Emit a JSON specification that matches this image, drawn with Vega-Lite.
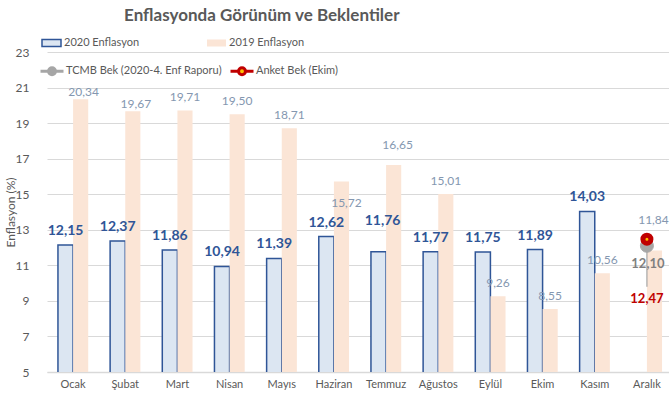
{
  "$schema": "https://vega.github.io/schema/vega-lite/v6.json",
  "width": 626,
  "height": 320,
  "autosize": "none",
  "padding": {"left": 47, "top": 52, "right": 0, "bottom": 28},
  "background": "white",
  "title": {
    "text": "Enflasyonda Görünüm ve Beklentiler",
    "font": "Lato",
    "fontSize": 17,
    "fontWeight": "bold",
    "color": "#595959",
    "anchor": "start",
    "dx": 120,
    "offset": 7
  },
  "datasets": {
    "ana": [
      {"ay": "Ocak", "seri": "2020 Enflasyon", "deger": 12.15},
      {"ay": "Şubat", "seri": "2020 Enflasyon", "deger": 12.37},
      {"ay": "Mart", "seri": "2020 Enflasyon", "deger": 11.86},
      {"ay": "Nisan", "seri": "2020 Enflasyon", "deger": 10.94},
      {"ay": "Mayıs", "seri": "2020 Enflasyon", "deger": 11.39},
      {"ay": "Haziran", "seri": "2020 Enflasyon", "deger": 12.62},
      {"ay": "Temmuz", "seri": "2020 Enflasyon", "deger": 11.76},
      {"ay": "Ağustos", "seri": "2020 Enflasyon", "deger": 11.77},
      {"ay": "Eylül", "seri": "2020 Enflasyon", "deger": 11.75},
      {"ay": "Ekim", "seri": "2020 Enflasyon", "deger": 11.89},
      {"ay": "Kasım", "seri": "2020 Enflasyon", "deger": 14.03},
      {"ay": "Ocak", "seri": "2019 Enflasyon", "deger": 20.34},
      {"ay": "Şubat", "seri": "2019 Enflasyon", "deger": 19.67},
      {"ay": "Mart", "seri": "2019 Enflasyon", "deger": 19.71},
      {"ay": "Nisan", "seri": "2019 Enflasyon", "deger": 19.50},
      {"ay": "Mayıs", "seri": "2019 Enflasyon", "deger": 18.71},
      {"ay": "Haziran", "seri": "2019 Enflasyon", "deger": 15.72},
      {"ay": "Temmuz", "seri": "2019 Enflasyon", "deger": 16.65},
      {"ay": "Ağustos", "seri": "2019 Enflasyon", "deger": 15.01},
      {"ay": "Eylül", "seri": "2019 Enflasyon", "deger": 9.26},
      {"ay": "Ekim", "seri": "2019 Enflasyon", "deger": 8.55},
      {"ay": "Kasım", "seri": "2019 Enflasyon", "deger": 10.56},
      {"ay": "Aralık", "seri": "2019 Enflasyon", "deger": 11.84},
      {"ay": "Aralık", "seri": "TCMB Bek (2020-4. Enf Raporu)", "deger": 12.10},
      {"ay": "Aralık", "seri": "Anket Bek (Ekim)", "deger": 12.47}
    ],
    "cizgi": [
      {"ay": "Aralık", "ust": 12.10, "alt": 9.8}
    ]
  },
  "data": {"name": "ana"},
  "encoding": {
    "x": {
      "field": "ay",
      "type": "nominal",
      "sort": null,
      "scale": {
        "domain": ["Ocak", "Şubat", "Mart", "Nisan", "Mayıs", "Haziran", "Temmuz", "Ağustos", "Eylül", "Ekim", "Kasım", "Aralık"],
        "paddingInner": 0.42,
        "paddingOuter": 0.21
      },
      "axis": {
        "title": null,
        "labelAngle": 0,
        "labelColor": "#595959",
        "labelFont": "Lato",
        "labelFontSize": 11,
        "labelPadding": 6,
        "ticks": false,
        "domainColor": "#d9d9d9",
        "domainWidth": 1.5
      }
    },
    "y": {
      "field": "deger",
      "type": "quantitative",
      "scale": {"domain": [5, 23], "nice": false, "zero": false},
      "axis": {
        "values": [5, 7, 9, 11, 13, 15, 17, 19, 21, 23],
        "title": "Enflasyon (%)",
        "titleColor": "#595959",
        "titleFont": "Lato",
        "titleFontSize": 12,
        "titleFontWeight": "normal",
        "titlePadding": -2,
        "labelColor": "#595959",
        "labelFont": "Lato",
        "labelFontSize": 12,
        "labelPadding": 18,
        "ticks": false,
        "domain": false,
        "gridColor": "#d9d9d9",
        "gridWidth": 1.2
      }
    }
  },
  "layer": [
    {
      "transform": [{"filter": "datum.seri == '2020 Enflasyon' || datum.seri == '2019 Enflasyon'"}],
      "mark": {"type": "bar", "strokeWidth": 1.5, "clip": true},
      "encoding": {
        "xOffset": {"field": "seri", "type": "nominal", "scale": {"domain": ["2020 Enflasyon", "2019 Enflasyon"], "paddingInner": 0, "paddingOuter": 0}},
        "fill": {
          "field": "seri",
          "type": "nominal",
          "scale": {"domain": ["2020 Enflasyon", "2019 Enflasyon"], "range": ["#dce6f2", "#fbe5d6"]},
          "legend": {
            "orient": "none",
            "legendX": -6,
            "legendY": -20,
            "direction": "horizontal",
            "columns": 2,
            "title": null,
            "symbolType": "M-1,-0.37H1V0.37H-1Z",
            "symbolSize": 361,
            "symbolStrokeWidth": 1.5,
            "labelFont": "Lato",
            "labelFontSize": 11,
            "labelColor": "#595959",
            "labelOffset": 2,
            "columnPadding": 64
          }
        },
        "stroke": {
          "field": "seri",
          "type": "nominal",
          "scale": {"domain": ["2020 Enflasyon", "2019 Enflasyon"], "range": ["#2f5597", "rgba(0,0,0,0)"]},
          "legend": {
            "orient": "none",
            "legendX": -6,
            "legendY": -20,
            "direction": "horizontal",
            "columns": 2,
            "title": null,
            "symbolType": "M-1,-0.37H1V0.37H-1Z",
            "symbolSize": 361,
            "symbolStrokeWidth": 1.5,
            "labelFont": "Lato",
            "labelFontSize": 11,
            "labelColor": "#595959",
            "labelOffset": 2,
            "columnPadding": 64
          }
        }
      }
    },
    {
      "transform": [{"filter": "datum.seri == '2020 Enflasyon' && datum.ay != 'Temmuz'"}],
      "mark": {"type": "text", "font": "Lato", "fontSize": 14, "fontWeight": "bold", "color": "#2f5597", "baseline": "middle", "dy": -14},
      "encoding": {
        "xOffset": {"field": "seri", "type": "nominal"},
        "text": {"field": "deger", "type": "quantitative", "format": ".2f"}
      }
    },
    {
      "transform": [{"filter": "datum.seri == '2020 Enflasyon' && datum.ay == 'Temmuz'"}],
      "mark": {"type": "text", "font": "Lato", "fontSize": 14, "fontWeight": "bold", "color": "#2f5597", "baseline": "middle", "dy": -31, "dx": 4},
      "encoding": {
        "xOffset": {"field": "seri", "type": "nominal"},
        "text": {"field": "deger", "type": "quantitative", "format": ".2f"}
      }
    },
    {
      "transform": [{"filter": "datum.seri == '2019 Enflasyon' && indexof(['Ocak','Şubat','Haziran','Temmuz','Aralık'], datum.ay) < 0"}],
      "mark": {"type": "text", "font": "Lato", "fontSize": 12, "color": "#8497b0", "baseline": "middle", "dy": -13},
      "encoding": {
        "xOffset": {"field": "seri", "type": "nominal"},
        "text": {"field": "deger", "type": "quantitative", "format": ".2f"}
      }
    },
    {
      "transform": [{"filter": "datum.seri == '2019 Enflasyon' && (datum.ay == 'Ocak' || datum.ay == 'Şubat')"}],
      "mark": {"type": "text", "font": "Lato", "fontSize": 12, "color": "#8497b0", "baseline": "middle", "dy": -7, "dx": 3},
      "encoding": {
        "xOffset": {"field": "seri", "type": "nominal"},
        "text": {"field": "deger", "type": "quantitative", "format": ".2f"}
      }
    },
    {
      "transform": [{"filter": "datum.seri == '2019 Enflasyon' && datum.ay == 'Temmuz'"}],
      "mark": {"type": "text", "font": "Lato", "fontSize": 12, "color": "#8497b0", "baseline": "middle", "dy": -20, "dx": 4},
      "encoding": {
        "xOffset": {"field": "seri", "type": "nominal"},
        "text": {"field": "deger", "type": "quantitative", "format": ".2f"}
      }
    },
    {
      "transform": [{"filter": "datum.seri == '2019 Enflasyon' && datum.ay == 'Haziran'"}],
      "mark": {"type": "text", "font": "Lato", "fontSize": 12, "color": "#8497b0", "baseline": "middle", "dy": 22, "dx": 5},
      "encoding": {
        "xOffset": {"field": "seri", "type": "nominal"},
        "text": {"field": "deger", "type": "quantitative", "format": ".2f"}
      }
    },
    {
      "transform": [{"filter": "datum.seri == '2019 Enflasyon' && datum.ay == 'Aralık'"}],
      "mark": {"type": "text", "font": "Lato", "fontSize": 12, "color": "#8497b0", "baseline": "middle", "dy": -30, "dx": -1},
      "encoding": {
        "xOffset": {"field": "seri", "type": "nominal"},
        "text": {"field": "deger", "type": "quantitative", "format": ".2f"}
      }
    },
    {
      "data": {"name": "cizgi"},
      "mark": {"type": "rule", "color": "#a6a6a6", "strokeWidth": 1.2},
      "encoding": {
        "y": {"field": "ust", "type": "quantitative"},
        "y2": {"field": "alt"}
      }
    },
    {
      "encoding": {
        "fill": {
          "field": "seri",
          "type": "nominal",
          "scale": {"domain": ["TCMB Bek (2020-4. Enf Raporu)", "Anket Bek (Ekim)"], "range": ["#a6a6a6", "#ffc000"]},
          "legend": {
            "orient": "none",
            "legendX": -8,
            "legendY": 6,
            "direction": "horizontal",
            "columns": 2,
            "title": null,
            "symbolType": "M-1,0H-0.3M0.3,0H1M-0.3,0A0.3,0.3 0 1,0 0.3,0A0.3,0.3 0 1,0 -0.3,0",
            "symbolSize": 529,
            "symbolStrokeWidth": 3,
            "labelFont": "Lato",
            "labelFontSize": 11,
            "labelColor": "#595959",
            "labelOffset": 1,
            "labelLimit": 300,
            "columnPadding": 2
          }
        },
        "stroke": {
          "field": "seri",
          "type": "nominal",
          "scale": {"domain": ["TCMB Bek (2020-4. Enf Raporu)", "Anket Bek (Ekim)"], "range": ["#a6a6a6", "#c00000"]},
          "legend": {
            "orient": "none",
            "legendX": -8,
            "legendY": 6,
            "direction": "horizontal",
            "columns": 2,
            "title": null,
            "symbolType": "M-1,0H-0.3M0.3,0H1M-0.3,0A0.3,0.3 0 1,0 0.3,0A0.3,0.3 0 1,0 -0.3,0",
            "symbolSize": 529,
            "symbolStrokeWidth": 3,
            "labelFont": "Lato",
            "labelFontSize": 11,
            "labelColor": "#595959",
            "labelOffset": 1,
            "labelLimit": 300,
            "columnPadding": 2
          }
        }
      },
      "layer": [
        {
          "transform": [{"filter": "datum.seri == 'TCMB Bek (2020-4. Enf Raporu)'"}],
          "mark": {"type": "circle", "size": 169, "strokeWidth": 1, "opacity": 1}
        },
        {
          "transform": [{"filter": "datum.seri == 'Anket Bek (Ekim)'"}],
          "mark": {"type": "circle", "size": 64, "strokeWidth": 5, "opacity": 1}
        }
      ]
    },
    {
      "transform": [{"filter": "datum.seri == 'TCMB Bek (2020-4. Enf Raporu)'"}],
      "mark": {"type": "text", "font": "Lato", "fontSize": 13, "fontWeight": "bold", "color": "#7f7f7f", "baseline": "middle", "dy": 18, "dx": 1},
      "encoding": {
        "text": {"field": "deger", "type": "quantitative", "format": ".2f"}
      }
    },
    {
      "transform": [{"filter": "datum.seri == 'Anket Bek (Ekim)'"}],
      "mark": {"type": "text", "font": "Lato", "fontSize": 13, "fontWeight": "bold", "color": "#c00000", "baseline": "middle", "dy": 60},
      "encoding": {
        "text": {"field": "deger", "type": "quantitative", "format": ".2f"}
      }
    }
  ],
  "resolve": {"scale": {"fill": "independent", "stroke": "independent"}},
  "config": {
    "view": {"stroke": null},
    "font": "Lato",
    "locale": {
      "number": {"decimal": ",", "thousands": ".", "grouping": [3], "currency": ["", " TL"]}
    }
  }
}
